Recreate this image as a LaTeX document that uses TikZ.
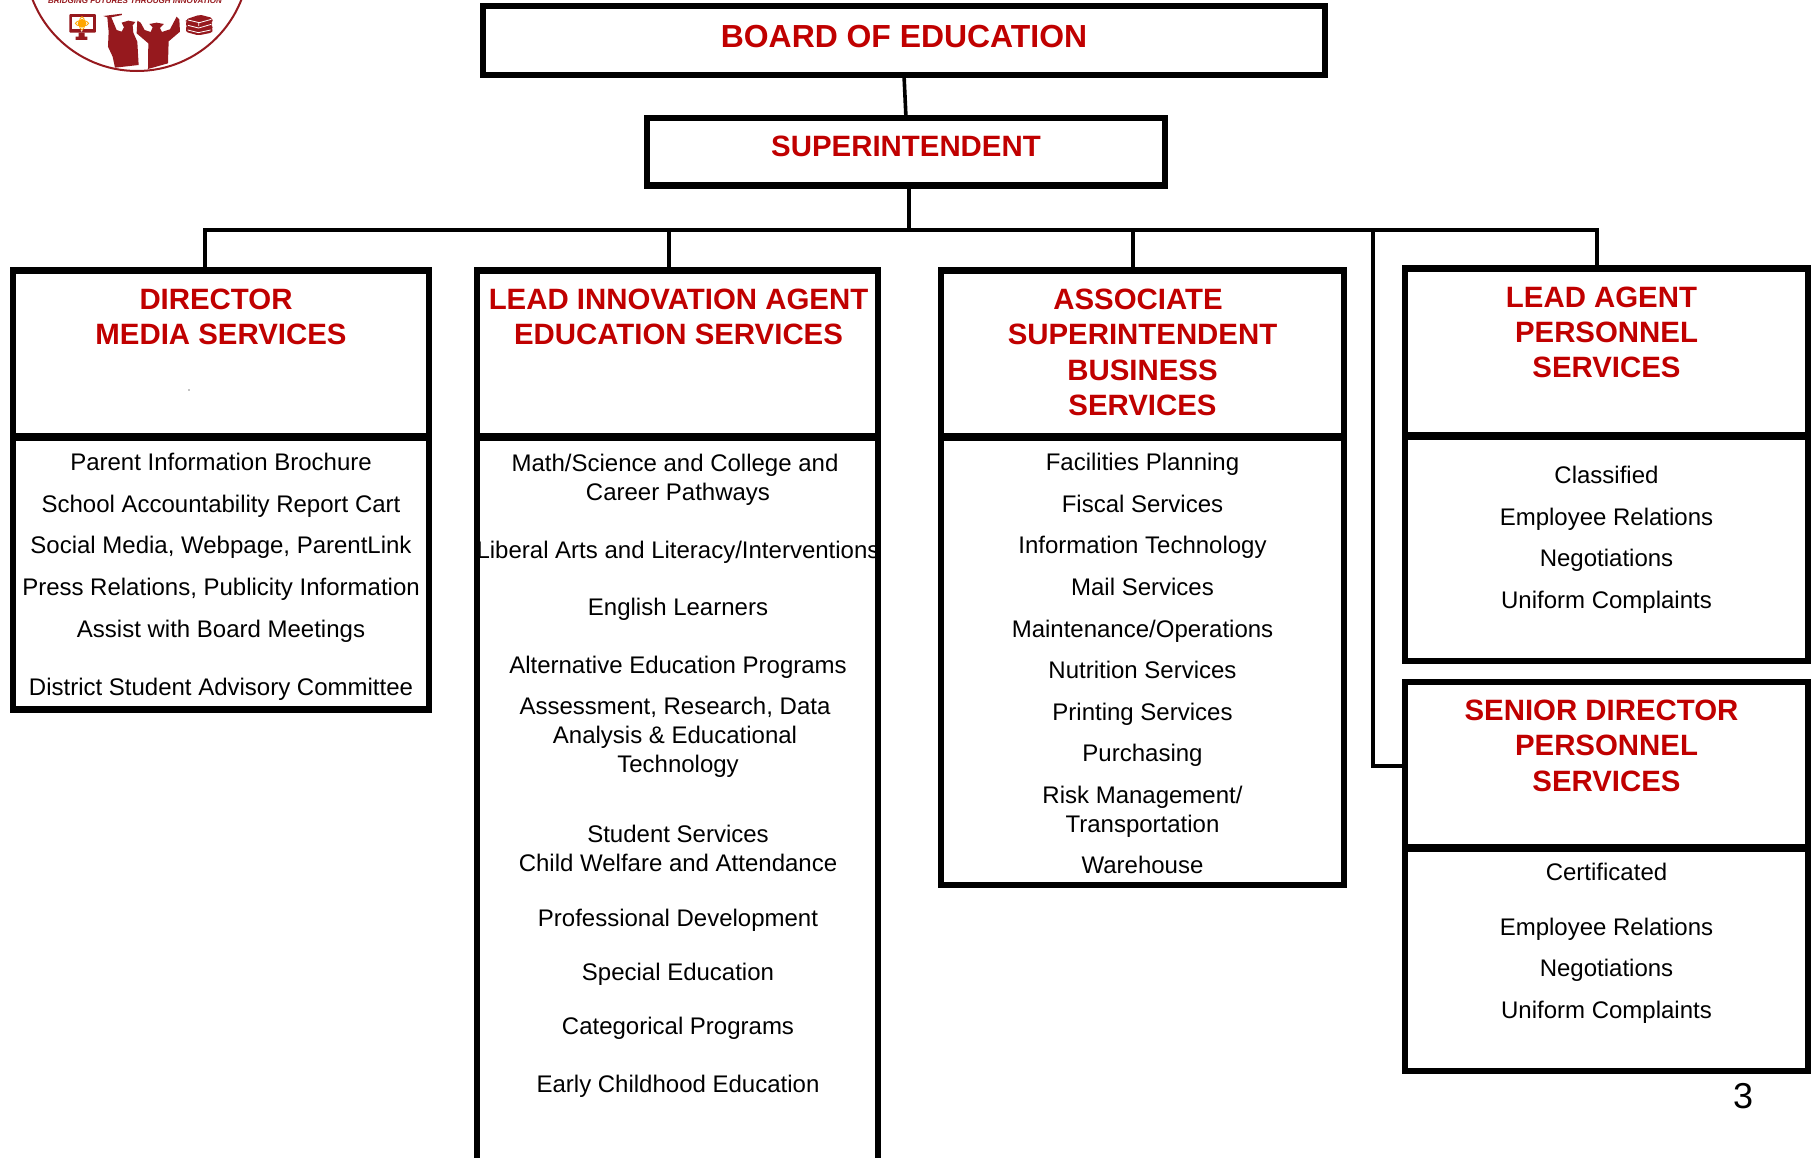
\documentclass[tikz,border=0pt]{standalone}
\usepackage{fontspec}
\setmainfont{Liberation Sans}
\definecolor{hd}{RGB}{192,0,0}
\definecolor{logo}{RGB}{150,25,30}
\tikzset{
 x=1pt,y=-1pt,
 bx/.style={draw=black,line width=6.7pt,fill=none,inner sep=0pt,outer sep=0pt},
 conn/.style={draw=black,line width=3.6pt},
 ttl/.style={text=hd,font=\bfseries\fontsize{29.4}{29.4}\selectfont,anchor=base,inner sep=0pt},
 itm/.style={text=black,font=\fontsize{24}{24}\selectfont,anchor=base,inner sep=0pt},
}
\newcommand{\bxn}[5]{\node[bx,minimum width=#4-#2,minimum height=#5-#3] (#1) at ({(#2+#4)/2},{(#3+#5)/2}) {};}
\begin{document}
\begin{tikzpicture}
\useasboundingbox (0,0) rectangle (1815,1157);
\fill[white] (0,0) rectangle (1815,1157);
% logo
\begin{scope}
\clip (0,0) rectangle (1815,1157);
\draw[logo,line width=2pt] (137,-41) circle (112);
\node[text=logo,font=\bfseries\itshape\fontsize{8}{8}\selectfont,inner sep=0pt,anchor=base] (motto) at (135,3.5) {BRIDGING FUTURES THROUGH INNOVATION};
\begin{scope}[shift={(20,0)},x=0.3333pt,y=-0.3333pt]
% monitor
\fill[logo,rounded corners=1pt] (148,42) rectangle (228,98);
\fill[white] (157,50) rectangle (220,88);
\fill[logo] (176,98) rectangle (194,110) (167,110) rectangle (202,120);
\fill[white] (185,92) circle (3);
\fill[orange!70!yellow] (186,70) circle (13);
\draw[orange!70!yellow,line width=0.8pt] (186,70) ellipse (20 and 8) (186,70) ellipse (8 and 20);
% graduates
\fill[logo] (250,48) -- (305,41) -- (306,45) -- (274,52) -- (290,90) -- (305,95) -- (312,82) -- (305,68) -- (325,62) -- (346,66) -- (338,76) -- (340,98) -- (352,125) -- (356,195) -- (285,203) -- (278,170) -- (264,140) -- (266,95) -- (262,52) -- cycle;
\fill[logo] (352,62) -- (362,68) -- (374,90) -- (392,96) -- (398,82) -- (388,72) -- (410,68) -- (432,72) -- (420,84) -- (426,96) -- (450,88) -- (470,50) -- (478,58) -- (480,95) -- (446,124) -- (444,190) -- (384,207) -- (385,130) -- (350,100) -- cycle;
% books
\fill[logo,rounded corners=2pt] (498,58) -- (540,44) -- (578,54) -- (578,68) -- (572,72) -- (578,76) -- (578,88) -- (574,92) -- (576,98) -- (535,106) -- (498,96) -- (500,88) -- (497,78) -- (502,72) -- (497,66) -- cycle;
\draw[white,line width=0.8pt] (504,60) -- (538,68) -- (574,58) (504,76) -- (536,84) -- (574,73) (503,90) -- (535,98) -- (572,90) (536,68) -- (536,78);
\end{scope}
\end{scope}
% boxes
\bxn{board}{483}{6}{1325}{75}
\bxn{sup}{647}{118}{1165}{185.3}
\bxn{dirh}{13}{270.5}{429}{436}
\bxn{dirb}{13}{438}{429}{709.5}
\bxn{leadh}{477}{270.5}{878}{436}
\bxn{leadb}{477}{438}{878}{1170}
\bxn{assh}{941}{270.5}{1344}{436}
\bxn{assb}{941}{438}{1344}{885}
\bxn{lagh}{1405}{268.5}{1808}{435}
\bxn{lagb}{1405}{437}{1808}{661}
\bxn{senh}{1405}{682}{1808}{847}
\bxn{senb}{1405}{849}{1808}{1071}
% connectors
\coordinate (bus) at (909,230);
\draw[conn] (board.south) -- (sup.north);
\draw[conn] (sup.south-|bus) -- (bus);
\draw[conn,line cap=rect] (dirh.north-|205,0) -- (205,230) -- (1597,230) -- (lagh.north-|1597,0);
\draw[conn] (669,230) -- (leadh.north-|669,0);
\draw[conn] (1133,230) -- (assh.north-|1133,0);
\draw[conn] (1373,230) -- (1373,766) -- (senh.west|-0,766);
% titles
\node[ttl,font=\bfseries\fontsize{31.9}{31.9}\selectfont] (tb) at (904,47) {BOARD OF EDUCATION};
\node[ttl] (ts) at (906,156) {SUPERINTENDENT};
\node[ttl] (td1) at (216,309) {DIRECTOR};
\node[ttl] (td2) at (221,344) {MEDIA SERVICES};
\node[ttl] (tl1) at (678.5,309) {LEAD INNOVATION AGENT};
\node[ttl] (tl2) at (678.5,344) {EDUCATION SERVICES};
\node[ttl] (ta1) at (1138,309) {ASSOCIATE};
\node[ttl] (ta2) at (1142.5,344) {SUPERINTENDENT};
\node[ttl] (ta3) at (1142.5,380) {BUSINESS};
\node[ttl] (ta4) at (1142.5,415) {SERVICES};
\node[ttl] (tg1) at (1601.5,307) {LEAD AGENT};
\node[ttl] (tg2) at (1606.5,342) {PERSONNEL};
\node[ttl] (tg3) at (1606.5,377) {SERVICES};
\node[ttl] (te1) at (1601.5,720) {SENIOR DIRECTOR};
\node[ttl] (te2) at (1606.5,755) {PERSONNEL};
\node[ttl] (te3) at (1606.5,791) {SERVICES};
% items
\foreach \yy/\tt [count=\i] in {470/Parent Information Brochure,512/School Accountability Report Cart,553/{Social Media, Webpage, ParentLink},595/{Press Relations, Publicity Information},637/Assist with Board Meetings,695/District Student Advisory Committee}
 \node[itm] (d\i) at (221,\yy) {\tt};
\foreach \xx/\yy/\tt [count=\i] in {675/471/{Math/Science and College and},678/500/Career Pathways,678/558/{Liberal Arts and Literacy/Interventions},678/615/English Learners,678/673/Alternative Education Programs,675/714/{Assessment, Research, Data},675/743/Analysis \& Educational,678/772/Technology,678/842/Student Services,678/871/Child Welfare and Attendance,678/926/Professional Development,678/980/Special Education,678/1034/Categorical Programs,678/1092/Early Childhood Education}
 \node[itm] (l\i) at (\xx,\yy) {\tt};
\foreach \yy/\tt [count=\i] in {470/Facilities Planning,512/Fiscal Services,553/Information Technology,595/Mail Services,637/{Maintenance/Operations},678/Nutrition Services,720/Printing Services,761/Purchasing,803/{Risk Management/},832/Transportation,873/Warehouse}
 \node[itm] (a\i) at (1142.5,\yy) {\tt};
\foreach \yy/\tt [count=\i] in {483/Classified,525/Employee Relations,566/Negotiations,608/Uniform Complaints}
 \node[itm] (g\i) at (1606.5,\yy) {\tt};
\foreach \yy/\tt [count=\i] in {880/Certificated,935/Employee Relations,976/Negotiations,1018/Uniform Complaints}
 \node[itm] (e\i) at (1606.5,\yy) {\tt};
\node[itm,font=\fontsize{36}{36}\selectfont] (pg) at (1743,1108) {3};
\fill (189,390) circle (0.7);
\end{tikzpicture}
\end{document}
